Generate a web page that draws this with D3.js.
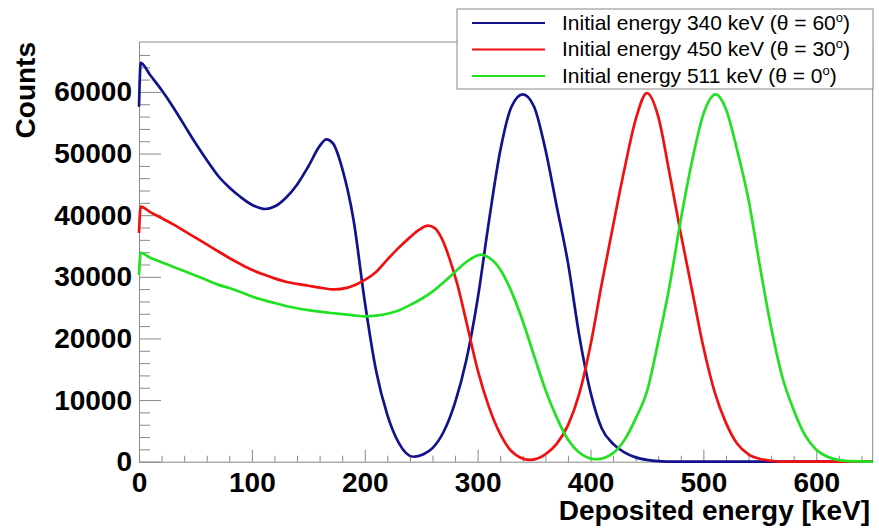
<!DOCTYPE html>
<html>
<head>
<meta charset="utf-8">
<script src="https://cdn.jsdelivr.net/npm/d3@7"></script>
<style>
  html, body { margin: 0; padding: 0; background: #fff; }
  svg { display: block; }
  .tick text { font-family: "Liberation Sans", Arial, Helvetica, sans-serif; font-weight: bold; font-size: 28px; fill: #000; }
</style>
</head>
<body>
<svg id="chart" width="879" height="529"></svg>
<script>
// Deposited-energy spectra (counts per bin) for three initial photon energies.
const energy340 = [0, 1.5, 10, 20, 30, 40, 50, 60, 70, 80, 90, 100, 112, 120, 130, 140, 150, 160, 166, 172, 180, 190, 200, 210, 220, 230, 243, 252, 260, 270, 280, 290, 300, 310, 320, 330, 340, 350, 360, 370, 380, 390, 400, 410, 420, 430, 440, 450, 460, 475, 650];
const counts340 = [57600, 64700, 62700, 60300, 57600, 54650, 51700, 48950, 46400, 44500, 42950, 41700, 41000, 41400, 42800, 44950, 47900, 51200, 52300, 51600, 47600, 39300, 26000, 14800, 7600, 3100, 800, 1200, 2200, 4900, 9600, 16500, 26400, 39000, 50400, 57600, 59600, 57600, 50700, 41500, 32300, 20500, 11300, 5400, 2900, 1500, 700, 300, 100, 0, 0];

const energy450 = [0, 1.5, 10, 20, 30, 40, 50, 60, 70, 80, 90, 100, 110, 120, 130, 140, 150, 160, 173, 185, 200, 210, 220, 230, 240, 248, 256, 262, 268, 275, 282, 290, 300, 310, 320, 330, 346, 360, 370, 380, 390, 400, 410, 420, 430, 440, 450, 460, 470, 480, 490, 500, 510, 520, 530, 540, 550, 560, 570, 650];
const counts450 = [37100, 41400, 40500, 39550, 38550, 37450, 36350, 35250, 34150, 33050, 32050, 31130, 30400, 29750, 29200, 28850, 28550, 28250, 27950, 28250, 29500, 30800, 32800, 34700, 36400, 37600, 38300, 37900, 36300, 33000, 28800, 22700, 14900, 8900, 4500, 1700, 300, 1200, 2900, 5900, 11000, 18900, 28900, 38300, 47400, 55500, 59800, 56000, 46800, 37000, 27800, 18600, 11300, 6300, 2900, 1200, 450, 150, 0, 0];

const energy511 = [0, 1.5, 10, 20, 30, 40, 50, 60, 70, 80, 90, 100, 110, 120, 130, 140, 150, 160, 170, 180, 190, 200, 210, 220, 230, 240, 250, 260, 270, 280, 290, 303, 310, 320, 330, 340, 350, 360, 370, 380, 390, 405, 420, 430, 440, 450, 460, 470, 480, 490, 500, 511, 520, 530, 540, 550, 560, 570, 580, 590, 600, 610, 620, 630, 645, 650];
const counts511 = [30300, 33900, 33100, 32350, 31650, 30930, 30200, 29470, 28730, 28170, 27530, 26800, 26250, 25750, 25270, 24900, 24600, 24350, 24130, 23950, 23750, 23580, 23700, 24000, 24550, 25400, 26400, 27600, 29100, 30800, 32400, 33600, 33100, 31200, 27600, 22800, 17200, 11700, 7200, 3600, 1500, 400, 1400, 3500, 7000, 11400, 19500, 28500, 39300, 48800, 56400, 59600, 57200, 50500, 42500, 31800, 21800, 13700, 8400, 4300, 1950, 800, 250, 80, 0, 0];

const seriesNames = ["Initial energy 340 keV (\u03B8 = 60", "Initial energy 450 keV (\u03B8 = 30", "Initial energy 511 keV (\u03B8 = 0"];
const seriesColors = ["#12128c", "#f01010", "#22e022"];

const xTicks = [0, 100, 200, 300, 400, 500, 600];
const yTicks = [0, 10000, 20000, 30000, 40000, 50000, 60000];

const series = [
  { name: seriesNames[0], color: seriesColors[0], pts: energy340.map((e, i) => [e, counts340[i]]) },
  { name: seriesNames[1], color: seriesColors[1], pts: energy450.map((e, i) => [e, counts450[i]]) },
  { name: seriesNames[2], color: seriesColors[2], pts: energy511.map((e, i) => [e, counts511[i]]) }
];

const svg = d3.select("#chart");
const frame = { left: 139, right: 872.7, top: 42, bottom: 461.7 };

const x = d3.scaleLinear().domain([0, 650]).range([frame.left, frame.right]);
const y = d3.scaleLinear().domain([0, 68100]).range([frame.bottom, frame.top]);

const axisColor = "#888";

// frame (top and right edges)
svg.append("path")
  .attr("d", `M${frame.left},${frame.top}H${frame.right}V${frame.bottom}`)
  .attr("fill", "none").attr("stroke", axisColor).attr("stroke-width", 1);

// minor ticks
const yMinor = d3.range(2000, 68000, 2000).filter(v => v % 10000 !== 0);
const xMinor = d3.range(20, 650, 20).filter(v => v % 100 !== 0);

svg.append("g").attr("transform", `translate(${frame.left},0)`)
  .call(d3.axisLeft(y).tickValues(yMinor).tickSize(-11).tickSizeOuter(0).tickFormat(""))
  .call(g => g.select(".domain").remove())
  .call(g => g.selectAll("line").attr("stroke", axisColor));

svg.append("g").attr("transform", `translate(0,${frame.bottom})`)
  .call(d3.axisBottom(x).tickValues(xMinor).tickSize(-6).tickSizeOuter(0).tickFormat(""))
  .call(g => g.select(".domain").remove())
  .call(g => g.selectAll("line").attr("stroke", axisColor));

// major ticks + labels
svg.append("g").attr("transform", `translate(${frame.left},0)`)
  .call(d3.axisLeft(y).tickValues(yTicks).tickSize(-22).tickSizeOuter(0).tickPadding(7).tickFormat(d3.format("d")))
  .call(g => g.select(".domain").attr("stroke", axisColor))
  .call(g => g.selectAll("line").attr("stroke", axisColor));

svg.append("g").attr("transform", `translate(0,${frame.bottom})`)
  .call(d3.axisBottom(x).tickValues(xTicks).tickSize(-12).tickSizeOuter(0).tickPadding(10).tickFormat(d3.format("d")))
  .call(g => g.select(".domain").attr("stroke", axisColor))
  .call(g => g.selectAll("line").attr("stroke", axisColor));

// spectra
const line = d3.line().x(d => x(d[0])).y(d => y(d[1])).curve(d3.curveMonotoneX);
svg.append("g").selectAll("path").data(series).join("path")
  .attr("d", d => line(d.pts))
  .attr("fill", "none")
  .attr("stroke", d => d.color)
  .attr("stroke-width", 2.7)
  .attr("stroke-linejoin", "round");

// axis titles
const titleFont = '"Liberation Sans", Arial, Helvetica, sans-serif';
svg.append("text")
  .attr("transform", `translate(35,${frame.top}) rotate(-90)`)
  .attr("text-anchor", "end")
  .attr("font-family", titleFont).attr("font-weight", "bold").attr("font-size", 28)
  .text("Counts");

svg.append("text")
  .attr("x", 870).attr("y", 520)
  .attr("text-anchor", "end")
  .attr("font-family", titleFont).attr("font-weight", "bold").attr("font-size", 28)
  .text("Deposited energy [keV]");

// legend
const legend = svg.append("g");
legend.append("rect")
  .attr("x", 457).attr("y", 9).attr("width", 416).attr("height", 80)
  .attr("fill", "#fff").attr("stroke", axisColor).attr("stroke-width", 1);

const rowY = [23, 49.5, 76];
series.forEach((s, i) => {
  legend.append("line")
    .attr("x1", 472).attr("x2", 545).attr("y1", rowY[i]).attr("y2", rowY[i])
    .attr("stroke", s.color).attr("stroke-width", 2.2);
  const t = legend.append("text")
    .attr("x", 562).attr("y", rowY[i] + 6.8)
    .attr("font-family", titleFont).attr("font-size", 21).attr("fill", "#000");
  t.append("tspan").text(s.name);
  t.append("tspan").attr("font-size", 13).attr("dy", -8).text("o");
  t.append("tspan").attr("dy", 8).text(")");
});
</script>
</body>
</html>
